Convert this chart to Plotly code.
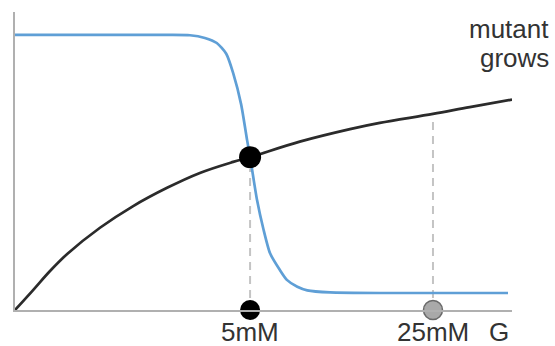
import plotly.graph_objects as go

# Curves (x: arbitrary glucose axis 0-10, y: 0-1)
blue_x = [0.0, 1.5, 3.0, 3.52, 3.82, 4.06, 4.25, 4.39, 4.55, 4.67, 4.73, 4.87, 5.0, 5.13, 5.33, 5.47, 5.68, 5.88, 6.34, 7.5, 9.92]
blue_y = [0.923, 0.923, 0.923, 0.922, 0.913, 0.896, 0.86, 0.795, 0.69, 0.57, 0.513, 0.369, 0.27, 0.191, 0.134, 0.101, 0.078, 0.066, 0.059, 0.057, 0.057]

black_x = [0.0, 0.36, 0.7, 1.05, 1.71, 2.37, 3.06, 3.72, 4.39, 4.73, 5.73, 6.74, 7.34, 8.41, 9.15, 10.0]
black_y = [0.0, 0.066, 0.13, 0.188, 0.276, 0.348, 0.41, 0.46, 0.497, 0.513, 0.565, 0.607, 0.628, 0.658, 0.681, 0.706]

cross_x = 4.73
cross_y = 0.513
g_low = 4.73
g_high = 8.41
g_high_y = 0.658
tick_labels = ["5mM", "25mM", "G"]
label_x = [4.73, 8.41, 9.74]
side_labels = ["mutant", "grows"]

fig = go.Figure()

# dashed guide lines
fig.add_trace(go.Scatter(x=[g_low, g_low], y=[0.04, cross_y - 0.04], mode="lines",
                         line=dict(color="#c4c4c4", width=2, dash="8px,6px"), hoverinfo="skip"))
fig.add_trace(go.Scatter(x=[g_high, g_high], y=[0.04, g_high_y - 0.01], mode="lines",
                         line=dict(color="#c4c4c4", width=2, dash="8px,6px"), hoverinfo="skip"))

fig.add_trace(go.Scatter(x=black_x, y=black_y, mode="lines",
                         line=dict(color="#2b2b2b", width=2.7, shape="spline", smoothing=1.0),
                         cliponaxis=False))
fig.add_trace(go.Scatter(x=blue_x, y=blue_y, mode="lines",
                         line=dict(color="#5f9fd6", width=2.7, shape="spline", smoothing=0.6),
                         cliponaxis=False))

fig.add_trace(go.Scatter(x=[cross_x], y=[cross_y], mode="markers",
                         marker=dict(color="black", size=22), cliponaxis=False))
fig.add_trace(go.Scatter(x=[g_low], y=[0], mode="markers",
                         marker=dict(color="black", size=20), cliponaxis=False))
fig.add_trace(go.Scatter(x=[g_high], y=[0], mode="markers",
                         marker=dict(color="#a9a9a9", size=19, line=dict(color="#6a6a6a", width=1.5)),
                         cliponaxis=False))

font = dict(family="Liberation Sans, Arial, sans-serif", size=26, color="#333333")
for t, xv in zip(tick_labels, label_x):
    fig.add_annotation(x=xv, y=0, xref="x", yref="y", text=t, showarrow=False,
                       yanchor="top", yshift=-5, font=font)

fig.add_annotation(x=1.078, y=0.942, xref="paper", yref="paper", text=side_labels[0], showarrow=False,
                   xanchor="right", yanchor="middle", font=font)
fig.add_annotation(x=1.078, y=0.847, xref="paper", yref="paper", text=side_labels[1], showarrow=False,
                   xanchor="right", yanchor="middle", font=font)

fig.update_layout(
    width=555, height=346,
    margin=dict(l=15, r=43, t=12, b=36),
    paper_bgcolor="white", plot_bgcolor="white",
    showlegend=False,
    xaxis=dict(range=[0, 10], showline=True, linecolor="#b0b0b0", linewidth=2,
               showgrid=False, zeroline=False, showticklabels=False, ticks=""),
    yaxis=dict(range=[0, 1], showline=True, linecolor="#b0b0b0", linewidth=2,
               showgrid=False, zeroline=False, showticklabels=False, ticks=""),
)

fig.write_html("out.html", config={"displayModeBar": False},
               post_script="document.body.style.margin='0';document.body.style.padding='0';")
